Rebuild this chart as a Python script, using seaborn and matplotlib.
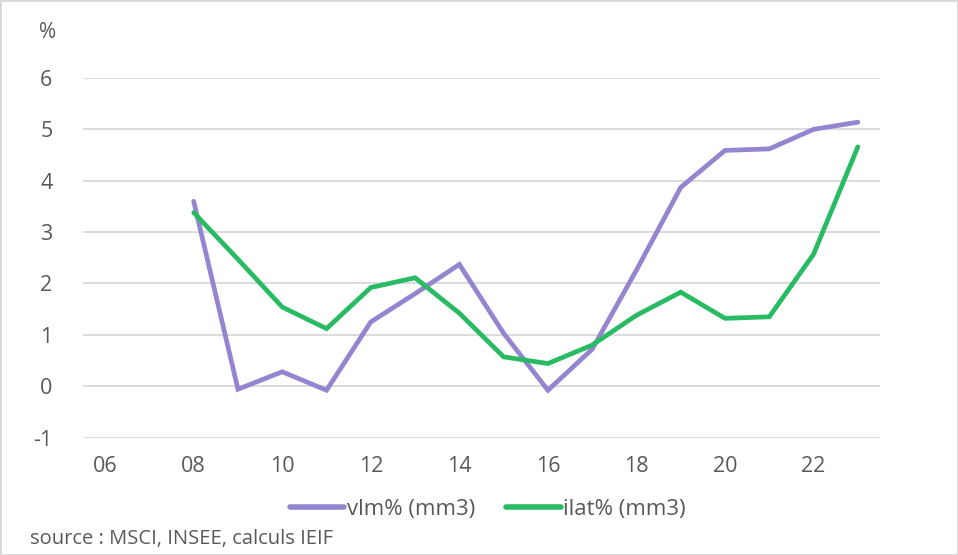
import matplotlib
matplotlib.use("Agg")
import matplotlib.pyplot as plt
import seaborn as sns
import pandas as pd

# Annual series (years 2008-2023)
years = [8, 9, 10, 11, 12, 13, 14, 15, 16, 17, 18, 19, 20, 21, 22, 23]
vlm = [3.60, -0.06, 0.28, -0.08, 1.25, 1.80, 2.37, 1.03, -0.08, 0.72, 2.26, 3.87, 4.59, 4.62, 5.00, 5.14]
ilat = [3.38, 2.47, 1.54, 1.12, 1.92, 2.11, 1.42, 0.57, 0.44, 0.80, 1.38, 1.83, 1.32, 1.35, 2.57, 4.66]
series_names = ["vlm% (mm3)", "ilat% (mm3)"]
colors = ["#9585d0", "#28bb63"]
x_ticks = [6, 8, 10, 12, 14, 16, 18, 20, 22]
y_ticks = [-1, 0, 1, 2, 3, 4, 5, 6]

df = pd.concat([
    pd.DataFrame({"year": years, "value": vlm, "series": series_names[0]}),
    pd.DataFrame({"year": years, "value": ilat, "series": series_names[1]}),
])

sns.set_theme(style="white")
plt.rcParams["font.family"] = ["Open Sans", "DejaVu Sans"]
text_color = "#595959"

fig = plt.figure(figsize=(9.58, 5.55), dpi=100)
fig.patch.set_facecolor("white")
fig.patch.set_edgecolor("#d9d9d9")
fig.patch.set_linewidth(2)
ax = fig.add_axes([83 / 958, 117.5 / 555, 797 / 958, 359.5 / 555])

sns.lineplot(data=df, x="year", y="value", hue="series", hue_order=series_names,
             palette=colors, linewidth=3.4, ax=ax, legend=True)
for line in ax.get_lines():
    line.set_solid_capstyle("round")
    line.set_solid_joinstyle("miter")

ax.set_xlim(5.5, 23.5)
ax.set_ylim(-1, 6)
ax.set_xticks(x_ticks)
ax.set_xticklabels([f"{t:02d}" for t in x_ticks])
ax.set_yticks(y_ticks)
ax.set_yticklabels([str(t) for t in y_ticks])
ax.grid(axis="y", color="#d9d9d9", linewidth=1.3)
ax.set_axisbelow(True)
for s in ax.spines.values():
    s.set_visible(False)
ax.tick_params(axis="both", length=0, labelsize=15.5, colors=text_color)
ax.tick_params(axis="x", pad=13)
ax.tick_params(axis="y", pad=22)
ax.set_xlabel("")
ax.set_ylabel("")

handles, labels = ax.get_legend_handles_labels()
for h in handles:
    h.set_linewidth(4)
    h.set_solid_capstyle("round")
leg = ax.legend(handles, labels, loc="center", bbox_to_anchor=(488 / 958, 1 - 509 / 555),
                bbox_transform=fig.transFigure, ncol=2, frameon=False,
                fontsize=16, handlelength=2.45, handletextpad=0.12,
                columnspacing=1.4, labelcolor=text_color)

fig.text(48 / 958, 1 - 32 / 555, "%", ha="center", va="center", fontsize=15, color=text_color)
fig.text(30 / 958, 1 - 539 / 555, "source : MSCI, INSEE, calculs IEIF", ha="left",
         va="center", fontsize=14.5, color=text_color)

fig.savefig("out.png", dpi=100, facecolor=fig.get_facecolor(), edgecolor=fig.get_edgecolor())
